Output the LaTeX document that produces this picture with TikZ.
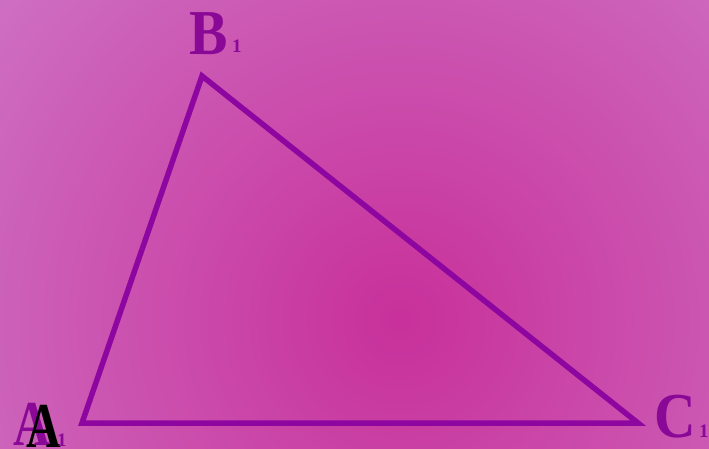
\documentclass[tikz,border=0pt]{standalone}
\usepackage{fontspec}
\setmainfont{Liberation Serif}
\definecolor{bgin}{HTML}{C8309A}
\definecolor{bgout}{HTML}{CE72C4}
\definecolor{edge}{HTML}{8E06A0}
\definecolor{lab}{HTML}{8A0896}
\tikzset{
  letter/.style={anchor=base west,inner sep=0pt,font=\fontsize{64}{64}\selectfont\bfseries,text=lab},
  index/.style={anchor=base west,inner sep=0pt,font=\fontsize{19}{19}\selectfont\bfseries,text=lab}
}

\begin{document}
\begin{tikzpicture}[x=1pt,y=-1pt]
\useasboundingbox (0,0) rectangle (709,449);
% background
\begin{scope}
\clip (0,0) rectangle (709,449);
\shade[inner color=bgin,outer color=bgout] (400,320) circle (540);
\end{scope}

% the triangle
\coordinate (A) at (82,423);
\coordinate (B) at (202,76);
\coordinate (C) at (638,423);
\draw[edge,line width=5.5pt,line join=miter] (A)--(B)--(C)--cycle;

% vertex labels
\node[letter,xscale=0.8] (la) at (13,445) {A};
\node[letter,xscale=0.75,text=black] (lb) at (26,447) {A};
\node[index] (la1) at (57,446) {1};
\node[letter,xscale=0.9] (bb) at (189,55) {B};
\node[index] (bb1) at (232,53) {1};
\node[letter,xscale=0.9] (cc) at (654,437) {C};
\node[index] (cc1) at (699,437) {1};
\end{tikzpicture}
\end{document}
